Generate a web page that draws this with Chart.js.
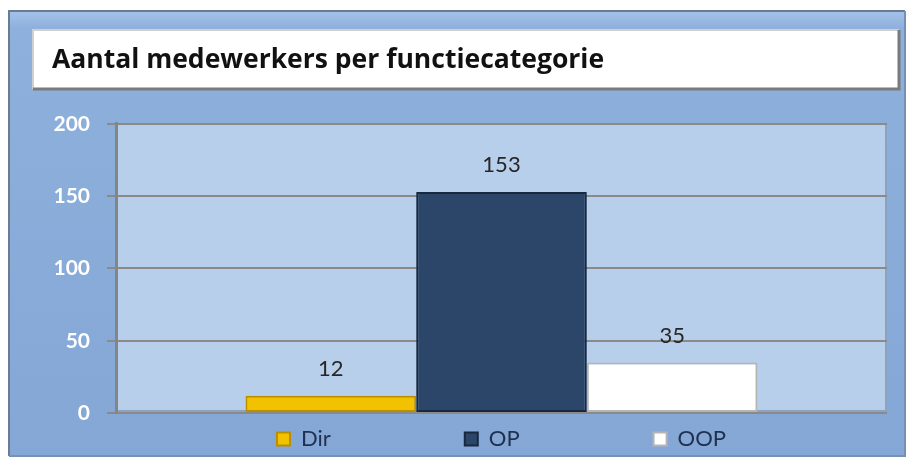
<!DOCTYPE html>
<html>
<head>
<meta charset="utf-8">
<script src="https://cdn.jsdelivr.net/npm/chart.js@4"></script>
<style>
  html, body { margin: 0; padding: 0; background: #fff; }
  #wrap { width: 909px; height: 459px; position: relative; }
</style>
</head>
<body>
<div id="wrap"><canvas id="barChart" width="909" height="459"></canvas></div>
<script>
  // Gegevens
  const categorieen = [''];
  const reeksen = ['Dir', 'OP', 'OOP'];
  const aantallen = [12, 153, 35];
  const yTicks = [0, 50, 100, 150, 200];

  const vulKleuren = ['#f2c200', '#2b4669', '#ffffff'];
  const randKleuren = ['#b98f00', '#17283f', '#b5b5b5'];

  const FONT = 'Lato, "Open Sans", sans-serif';

  // Achtergrond: kader, titelvak en tekengebied
  const achtergrond = {
    id: 'achtergrond',
    afterLayout(chart) {
      // legenda een rij lager zetten (grote tussenruimte tussen de items)
      const lg = chart.legend;
      lg.top = chart.chartArea.bottom + 25 - lg.options.labels.padding - 10;
    },
    beforeDraw(chart) {
      const ctx = chart.ctx;
      const a = chart.chartArea;
      ctx.save();
      ctx.fillStyle = '#ffffff';
      ctx.fillRect(0, 0, chart.width, chart.height);

      // buitenkader
      const g = ctx.createLinearGradient(0, 10, 0, 456);
      g.addColorStop(0, '#a6c4ea');
      g.addColorStop(0.04, '#8eb0dc');
      g.addColorStop(1, '#84a7d6');
      ctx.fillStyle = g;
      ctx.fillRect(8, 10, 897, 446);
      ctx.strokeStyle = '#6b7b92';
      ctx.lineWidth = 2;
      ctx.beginPath();
      ctx.moveTo(9, 456); ctx.lineTo(9, 11); ctx.lineTo(905, 11);
      ctx.stroke();
      ctx.strokeStyle = '#7890b4';
      ctx.beginPath();
      ctx.moveTo(9, 456); ctx.lineTo(905, 456); ctx.lineTo(905, 11);
      ctx.stroke();

      // titelvak
      ctx.fillStyle = '#ffffff';
      ctx.fillRect(32, 29, 867, 60);
      ctx.strokeStyle = '#d0d0d0';
      ctx.lineWidth = 2;
      ctx.beginPath();
      ctx.moveTo(33, 89); ctx.lineTo(33, 30); ctx.lineTo(899, 30);
      ctx.stroke();
      ctx.strokeStyle = '#7a7a7a';
      ctx.lineWidth = 3;
      ctx.beginPath();
      ctx.moveTo(33, 89); ctx.lineTo(899, 89); ctx.lineTo(899, 30);
      ctx.stroke();

      // tekengebied
      ctx.fillStyle = '#b8cfeb';
      ctx.fillRect(a.left, a.top, a.width, a.height);
      ctx.strokeStyle = '#8da2bf';
      ctx.lineWidth = 2;
      ctx.beginPath();
      ctx.moveTo(a.left, a.bottom - 2); ctx.lineTo(a.right - 1, a.bottom - 2); ctx.lineTo(a.right - 1, a.top);
      ctx.stroke();
      ctx.restore();
    },
    afterDatasetsDraw(chart) {
      // waardelabels boven de staven
      const ctx = chart.ctx;
      ctx.save();
      ctx.font = '22px ' + FONT;
      ctx.fillStyle = '#262626';
      ctx.textAlign = 'center';
      ctx.textBaseline = 'middle';
      chart.data.datasets.forEach((ds, i) => {
        const bar = chart.getDatasetMeta(i).data[0];
        ctx.fillText(ds.data[0], bar.x, bar.y - 27);
      });
      ctx.restore();
    }
  };

  const barData = {
    labels: categorieen,
    datasets: reeksen.map((naam, i) => ({
      label: naam,
      data: [aantallen[i]],
      backgroundColor: vulKleuren[i],
      borderColor: randKleuren[i],
      borderWidth: 2,
      borderSkipped: false,
      categoryPercentage: 0.664,
      barPercentage: 1
    }))
  };

  const barOptions = {
    responsive: false,
    animation: false,
    layout: { padding: { left: 52, right: 22, top: 0, bottom: 0 } },
    plugins: {
      title: {
        display: true,
        text: 'Aantal medewerkers per functiecategorie',
        align: 'start',
        color: '#111111',
        font: { family: '"Open Sans", sans-serif', size: 26.5, weight: 'bold', lineHeight: 1.3 },
        padding: { top: 43, bottom: 46.5 }
      },
      legend: {
        position: 'bottom',
        fullSize: false,
        maxHeight: 46,
        labels: {
          boxWidth: 13,
          boxHeight: 13,
          padding: 134,
          color: '#1f3050',
          font: { family: FONT, size: 22 }
        }
      },
      tooltip: { enabled: false }
    },
    scales: {
      x: { display: false },
      y: {
        min: 0,
        max: 200,
        afterBuildTicks(scale) {
          scale.ticks = yTicks.map(v => ({ value: v }));
        },
        afterFit(scale) { scale.width = 64; },
        grid: { color: '#8a8a8a', lineWidth: 2, tickLength: 9 },
        border: { color: '#858585', width: 3 },
        ticks: {
          color: '#ffffff',
          padding: 17,
          font: { family: FONT, size: 21, weight: 'bold' }
        }
      }
    }
  };

  const barCtx = document.getElementById('barChart').getContext('2d');
  new Chart(barCtx, {
    type: 'bar',
    data: barData,
    options: barOptions,
    plugins: [achtergrond]
  });
</script>
</body>
</html>
